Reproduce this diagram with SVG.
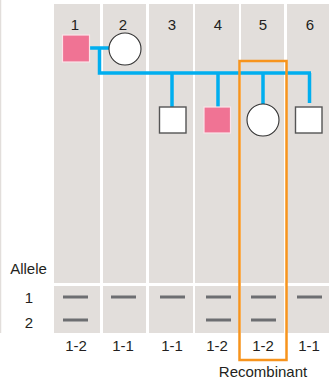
<svg xmlns="http://www.w3.org/2000/svg" width="329" height="384" viewBox="0 0 329 384">
<style>
.bg{fill:#e2dedb}
.t{font-family:"Liberation Sans",Arial,sans-serif;font-size:15px;fill:#231f20;text-anchor:middle}
.band{stroke:#6d6e71;stroke-width:3}
.blue{stroke:#00aeef;stroke-width:3.5;fill:none}
.aff{fill:#f07394;stroke:#fbe3e8;stroke-width:1.2}
.un{fill:#ffffff;stroke:#555;stroke-width:1.4}
.fem{fill:#ffffff;stroke:#333;stroke-width:1.1}
</style>
<rect width="329" height="384" fill="#ffffff"/>
<line x1="0.5" y1="0" x2="0.5" y2="333" stroke="#e2dedb" stroke-width="1.5"/>
<g id="columns">
<rect class="bg" x="54" y="4" width="46" height="279"/>
<rect class="bg" x="103" y="4" width="43" height="279"/>
<rect class="bg" x="149" y="4" width="44" height="279"/>
<rect class="bg" x="195" y="4" width="44" height="279"/>
<rect class="bg" x="241" y="4" width="43" height="279"/>
<rect class="bg" x="287" y="4" width="42" height="279"/>
<rect class="bg" x="54" y="286" width="46" height="47"/>
<rect class="bg" x="103" y="286" width="43" height="47"/>
<rect class="bg" x="149" y="286" width="44" height="47"/>
<rect class="bg" x="195" y="286" width="44" height="47"/>
<rect class="bg" x="241" y="286" width="43" height="47"/>
<rect class="bg" x="287" y="286" width="42" height="47"/>
</g>
<g id="labels">
<text class="t" x="75" y="30">1</text>
<text class="t" x="123" y="30">2</text>
<text class="t" x="172" y="30">3</text>
<text class="t" x="218" y="30">4</text>
<text class="t" x="263" y="30">5</text>
<text class="t" x="310" y="30">6</text>
<text class="t" x="28.5" y="274">Allele</text>
<text class="t" x="29" y="303">1</text>
<text class="t" x="29" y="328">2</text>
<text class="t" x="76" y="351">1-2</text>
<text class="t" x="123" y="351">1-1</text>
<text class="t" x="172" y="351">1-1</text>
<text class="t" x="217" y="351">1-2</text>
<text class="t" x="263" y="351">1-2</text>
<text class="t" x="309" y="351">1-1</text>
<text class="t" x="263" y="377">Recombinant</text>
</g>
<g id="connectors">
<path class="blue" d="M89 48 H109 M99.5 48 V73 M97.75 73 H311 M172 73 V107 M218 73 V107 M263 73 V104 M309.5 73 V103"/>
</g>
<g id="n1"><rect class="aff" x="62.5" y="35" width="27" height="27"/></g>
<g id="n2"><circle class="fem" cx="125" cy="49" r="16"/></g>
<g id="n3"><rect class="un" x="159.5" y="107" width="26.5" height="26"/></g>
<g id="n4"><rect class="aff" x="204" y="107" width="26.5" height="26"/></g>
<g id="n5"><circle class="fem" cx="263" cy="120" r="16"/></g>
<g id="n6"><rect class="un" x="295.5" y="107" width="26.5" height="26"/></g>
<g id="bands">
<line class="band" x1="63" y1="297" x2="88" y2="297"/>
<line class="band" x1="63" y1="320" x2="88" y2="320"/>
<line class="band" x1="111" y1="297" x2="136" y2="297"/>
<line class="band" x1="160" y1="297" x2="185" y2="297"/>
<line class="band" x1="206" y1="297" x2="231" y2="297"/>
<line class="band" x1="206" y1="320" x2="231" y2="320"/>
<line class="band" x1="251" y1="297" x2="276" y2="297"/>
<line class="band" x1="251" y1="320" x2="276" y2="320"/>
<line class="band" x1="297" y1="297" x2="322" y2="297"/>
</g>
<g id="recombinant-box">
<rect x="239.5" y="61" width="47" height="299" fill="none" stroke="#f7941d" stroke-width="2.5"/>
</g>
</svg>
